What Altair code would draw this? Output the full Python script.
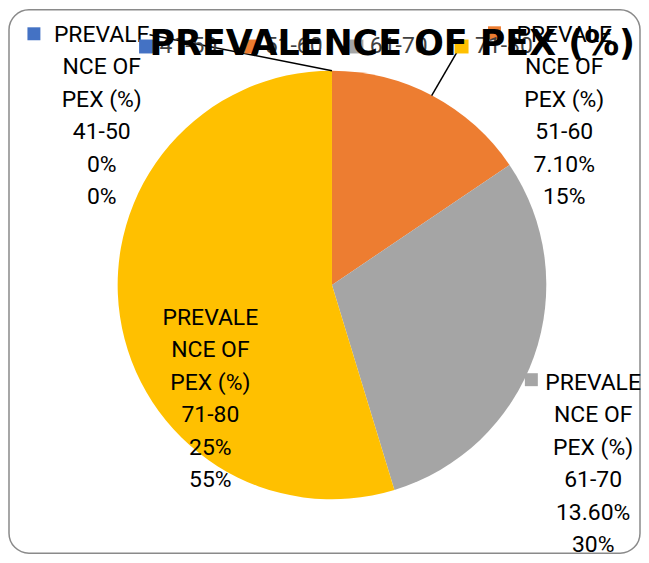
import altair as alt
import pandas as pd

categories = ["41-50", "51-60", "61-70", "71-80"]
prevalence = [0.0, 7.1, 13.6, 25.0]
value_labels = ["0%", "7.10%", "13.60%", "25%"]
share_labels = ["0%", "15%", "30%", "55%"]
colors = ["#4472C4", "#ED7D31", "#A5A5A5", "#FFC000"]
chart_title = "PREVALENCE OF PEX (%)"
series_name_lines = ["PREVALE", "NCE OF", "PEX (%)"]

labels = ["\n".join(series_name_lines + [c, v, s])
          for c, v, s in zip(categories, value_labels, share_labels)]

df = pd.DataFrame({
    "group": categories,
    "value": prevalence,
    "order": list(range(len(categories))),
    "label": labels,
})

FONT = "Roboto, sans-serif"
TITLE_FONT = "DejaVu Sans, sans-serif"

color = alt.Color(
    "group:N",
    scale=alt.Scale(domain=categories, range=colors),
    legend=alt.Legend(
        title=None, orient="none", direction="horizontal",
        legendX=126, legendY=25, padding=0,
        symbolType="square", symbolSize=196, symbolStrokeWidth=0,
        labelFont=FONT, labelFontSize=23, labelColor="#404040",
        labelOffset=2, columnPadding=21.5, zindex=0,
    ),
)

base = alt.Chart(df)

pie = base.mark_arc(outerRadius=215).encode(
    theta=alt.Theta("value:Q", stack=True),
    color=color,
    order=alt.Order("order:Q"),
    x=alt.value(324),
    y=alt.value(276),
)

def label_layer(cat, x, y):
    return base.transform_filter(alt.datum.group == cat).mark_text(
        font=FONT, fontSize=23, color="#000000", align="center",
        baseline="alphabetic", lineBreak="\n", lineHeight=32.6,
    ).encode(text="label:N", x=alt.value(x), y=alt.value(y))

def key_layer(cat, x, y):
    return base.transform_filter(alt.datum.group == cat).mark_square(
        size=169, opacity=1
    ).encode(color=alt.Color("group:N", scale=alt.Scale(domain=categories, range=colors)),
             x=alt.value(x), y=alt.value(y))

def leader(x1, y1, x2, y2):
    return base.transform_filter(alt.datum.group == categories[0]).mark_rule(
        color="#000000", strokeWidth=1.5
    ).encode(x=alt.value(x1), y=alt.value(y1), x2=alt.value(x2), y2=alt.value(y2))

chart = alt.layer(
    pie,
    leader(141, 25, 324, 61),
    leader(424, 86, 452, 38),
    key_layer("41-50", 25, 24),
    key_layer("51-60", 487, 23),
    key_layer("61-70", 524, 371),
    label_layer("41-50", 93, 32),
    label_layer("51-60", 557, 32),
    label_layer("61-70", 586, 381),
    label_layer("71-80", 202, 316),
).properties(
    width=633, height=545, padding=1, autosize="none",
    background="white",
    title=alt.Title(
        text=chart_title, font=TITLE_FONT, fontSize=35, fontWeight="bold",
        color="#000000", anchor="middle", dx=68, dy=80, offset=0,
        baseline="alphabetic", zindex=1,
    ),
).configure_view(
    stroke="#8a8a8a", strokeWidth=1.5, cornerRadius=20
)

chart.save("out.html", embed_options={"renderer": "svg", "actions": False})
